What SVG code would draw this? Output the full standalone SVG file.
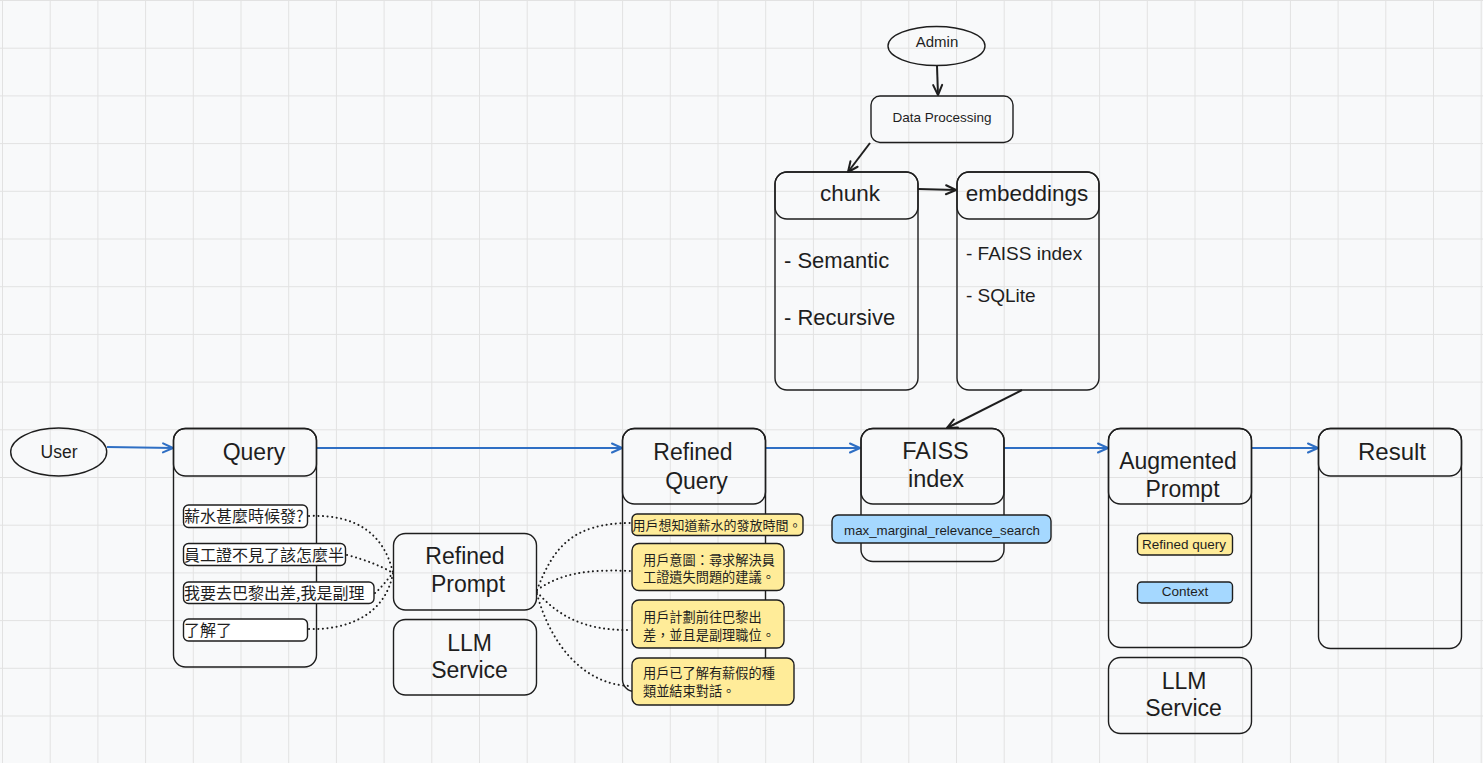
<svg xmlns="http://www.w3.org/2000/svg" width="1483" height="763" viewBox="0 0 1483 763">
<style>
.bx{fill:none;stroke:#1e1e1e;stroke-width:1.4}
.wt{fill:#ffffff;stroke:#1e1e1e;stroke-width:1.4}
.yl{fill:#ffec99;stroke:#1e1e1e;stroke-width:1.4}
.bl{fill:#a5d8ff;stroke:#1e1e1e;stroke-width:1.4}
.t{font-family:"Liberation Sans","Noto Sans CJK TC",sans-serif;fill:#1e1e1e;text-anchor:middle}
.l{text-anchor:start}
.h{font-size:23px}
.c{font-family:"Noto Sans CJK TC","Liberation Sans",sans-serif;fill:#1e1e1e}
.ab{fill:none;stroke:#2f6fc4;stroke-width:2}
.ak{fill:none;stroke:#1e1e1e;stroke-width:2}
.dt{fill:none;stroke:#1e1e1e;stroke-width:2;stroke-dasharray:0.1 4.5;stroke-linecap:round}
</style>
<defs>
<pattern id="grid" x="2" y="0" width="47.7" height="47.7" patternUnits="userSpaceOnUse">
<path d="M0.5,0 V47.7 M0,0.5 H47.7" fill="none" stroke="#e2e2e2" stroke-width="1"/>
</pattern>
<marker id="mb" markerWidth="16" markerHeight="16" refX="13" refY="8" orient="auto" markerUnits="userSpaceOnUse">
<path d="M3,3.5 L13,8 L3,12.5" fill="none" stroke="#2f6fc4" stroke-width="2" stroke-linecap="round" stroke-linejoin="round"/>
</marker>
<marker id="mk" markerWidth="16" markerHeight="16" refX="13" refY="8" orient="auto" markerUnits="userSpaceOnUse">
<path d="M3,3.5 L13,8 L3,12.5" fill="none" stroke="#1e1e1e" stroke-width="2" stroke-linecap="round" stroke-linejoin="round"/>
</marker>
</defs>
<rect x="0" y="0" width="1483" height="763" fill="#f8f9fa"/>
<rect x="0" y="0" width="1483" height="763" fill="url(#grid)"/>

<g id="connectors">
<line class="ak" x1="937" y1="66" x2="938" y2="95" marker-end="url(#mk)"/>
<line class="ak" x1="870" y1="143" x2="848" y2="172" marker-end="url(#mk)"/>
<line class="ak" x1="918" y1="189" x2="956" y2="190" marker-end="url(#mk)"/>
<line class="ak" x1="1022" y1="390" x2="947" y2="428" marker-end="url(#mk)"/>
<line class="ab" x1="107" y1="447" x2="173" y2="448" marker-end="url(#mb)"/>
<line class="ab" x1="317" y1="448" x2="622" y2="448" marker-end="url(#mb)"/>
<line class="ab" x1="766" y1="448" x2="860" y2="448" marker-end="url(#mb)"/>
<line class="ab" x1="1004" y1="448" x2="1108" y2="448" marker-end="url(#mb)"/>
<line class="ab" x1="1252" y1="448" x2="1318" y2="448" marker-end="url(#mb)"/>
<path class="dt" d="M309,516 C355,514 384,533 393,573"/>
<path class="dt" d="M347,555 C366,560 381,566 393,573"/>
<path class="dt" d="M375,593 C381,588 387,580 393,573"/>
<path class="dt" d="M309,629 C352,630 386,612 393,573"/>
<path class="dt" d="M537,590 C553,548 572,523 631,523"/>
<path class="dt" d="M537,590 C560,574 585,569 631,571"/>
<path class="dt" d="M537,592 C558,616 585,631 631,630"/>
<path class="dt" d="M537,594 C550,642 582,685 631,686"/>
</g>

<g id="admin">
<ellipse class="bx" cx="936.5" cy="46" rx="48.5" ry="19.5"/>
<text class="t" x="937" y="47" font-size="15">Admin</text>
</g>

<g id="data-processing">
<rect class="bx" x="871" y="96" width="142" height="46.5" rx="9"/>
<text class="t" x="942" y="122" font-size="13.5">Data Processing</text>
</g>

<g id="chunk">
<rect class="bx" x="775" y="172" width="143" height="218" rx="12"/>
<rect class="bx" x="775" y="172" width="143" height="47" rx="12"/>
<text class="t" x="850" y="201" font-size="22.5">chunk</text>
<text class="t l" x="784" y="268" font-size="22">- Semantic</text>
<text class="t l" x="784" y="325" font-size="22">- Recursive</text>
</g>

<g id="embeddings">
<rect class="bx" x="957" y="172" width="142" height="218" rx="12"/>
<rect class="bx" x="957" y="172" width="142" height="47" rx="12"/>
<text class="t" x="1027" y="201" font-size="22.5">embeddings</text>
<text class="t l" x="966" y="260" font-size="19">- FAISS index</text>
<text class="t l" x="966" y="302" font-size="19">- SQLite</text>
</g>

<g id="user">
<ellipse class="bx" cx="58.7" cy="452" rx="48" ry="24"/>
<text class="t" x="59" y="458" font-size="17.5">User</text>
</g>

<g id="query">
<rect class="bx" x="173.5" y="428.5" width="143" height="238.5" rx="12"/>
<rect class="bx" x="173.5" y="428.5" width="143" height="47.5" rx="12"/>
<text class="t h" x="254" y="459.5">Query</text>
<rect class="wt" x="183.5" y="505" width="124" height="22.5" rx="5"/>
<text class="c" x="184" y="522" font-size="16">薪水甚麼時候發?</text>
<rect class="wt" x="183.5" y="543.5" width="162" height="22" rx="5"/>
<text class="c" x="184" y="560.5" font-size="16">員工證不見了該怎麼半</text>
<rect class="wt" x="183.5" y="582" width="190.5" height="21.5" rx="5"/>
<text class="c" x="184" y="598.5" font-size="16">我要去巴黎出差,我是副理</text>
<rect class="wt" x="183.5" y="619" width="124" height="22" rx="5"/>
<text class="c" x="184" y="636" font-size="16">了解了</text>
</g>

<g id="refined-prompt">
<rect class="bx" x="393.5" y="533.5" width="143" height="76.5" rx="12"/>
<text class="t h" x="465" y="564">Refined</text>
<text class="t h" x="468" y="592">Prompt</text>
</g>

<g id="llm-service-1">
<rect class="bx" x="393.5" y="619.5" width="143" height="75.5" rx="12"/>
<text class="t h" x="469.5" y="651">LLM</text>
<text class="t h" x="469.5" y="678">Service</text>
</g>

<g id="refined-query">
<rect class="bx" x="622.5" y="428.5" width="143" height="263" rx="12"/>
<rect class="bx" x="622.5" y="428.5" width="143" height="75.5" rx="12"/>
<text class="t h" x="693" y="459.5">Refined</text>
<text class="t h" x="696.5" y="488.5">Query</text>
<rect class="yl" x="632" y="514" width="171" height="21.5" rx="5"/>
<text class="c" x="632.5" y="530" font-size="13">用戶想知道薪水的發放時間。</text>
<rect class="yl" x="632" y="543.5" width="152" height="47" rx="7"/>
<text class="c" x="643" y="565" font-size="13.2">用戶意圖：尋求解決員</text>
<text class="c" x="643" y="582" font-size="13.2">工證遺失問題的建議。</text>
<rect class="yl" x="632" y="600" width="152" height="48" rx="7"/>
<text class="c" x="643" y="621.5" font-size="13.2">用戶計劃前往巴黎出</text>
<text class="c" x="643" y="640" font-size="13.2">差，並且是副理職位。</text>
<rect class="yl" x="632" y="658" width="162" height="47" rx="7"/>
<text class="c" x="643" y="678" font-size="13.2">用戶已了解有薪假的種</text>
<text class="c" x="643" y="696" font-size="13.2">類並結束對話。</text>
</g>

<g id="faiss-index">
<rect class="bx" x="861" y="428.5" width="143" height="133" rx="12"/>
<rect class="bx" x="861" y="428.5" width="143" height="75.5" rx="12"/>
<text class="t" x="935.5" y="459" font-size="23.5">FAISS</text>
<text class="t" x="936" y="487" font-size="23.5">index</text>
<rect class="bl" x="832" y="515" width="219" height="28" rx="6"/>
<text class="t" x="942" y="535" font-size="13.3">max_marginal_relevance_search</text>
</g>

<g id="augmented-prompt">
<rect class="bx" x="1108.5" y="428.5" width="143" height="219" rx="12"/>
<rect class="bx" x="1108.5" y="428.5" width="143" height="75.5" rx="12"/>
<text class="t h" x="1178" y="469">Augmented</text>
<text class="t h" x="1182.5" y="496.5">Prompt</text>
<rect class="yl" x="1137.5" y="533.5" width="95" height="21.5" rx="4"/>
<text class="t" x="1184" y="549" font-size="13.5">Refined query</text>
<rect class="bl" x="1137.5" y="582" width="95" height="21" rx="4"/>
<text class="t" x="1185" y="596" font-size="13.5">Context</text>
</g>

<g id="llm-service-2">
<rect class="bx" x="1108.5" y="657.5" width="143" height="76" rx="12"/>
<text class="t h" x="1184" y="688.5">LLM</text>
<text class="t h" x="1183.5" y="716">Service</text>
</g>

<g id="result">
<rect class="bx" x="1318.5" y="428.5" width="143" height="220" rx="12"/>
<rect class="bx" x="1318.5" y="428.5" width="143" height="47.5" rx="12"/>
<text class="t" x="1392" y="459.5" font-size="24">Result</text>
</g>
</svg>
